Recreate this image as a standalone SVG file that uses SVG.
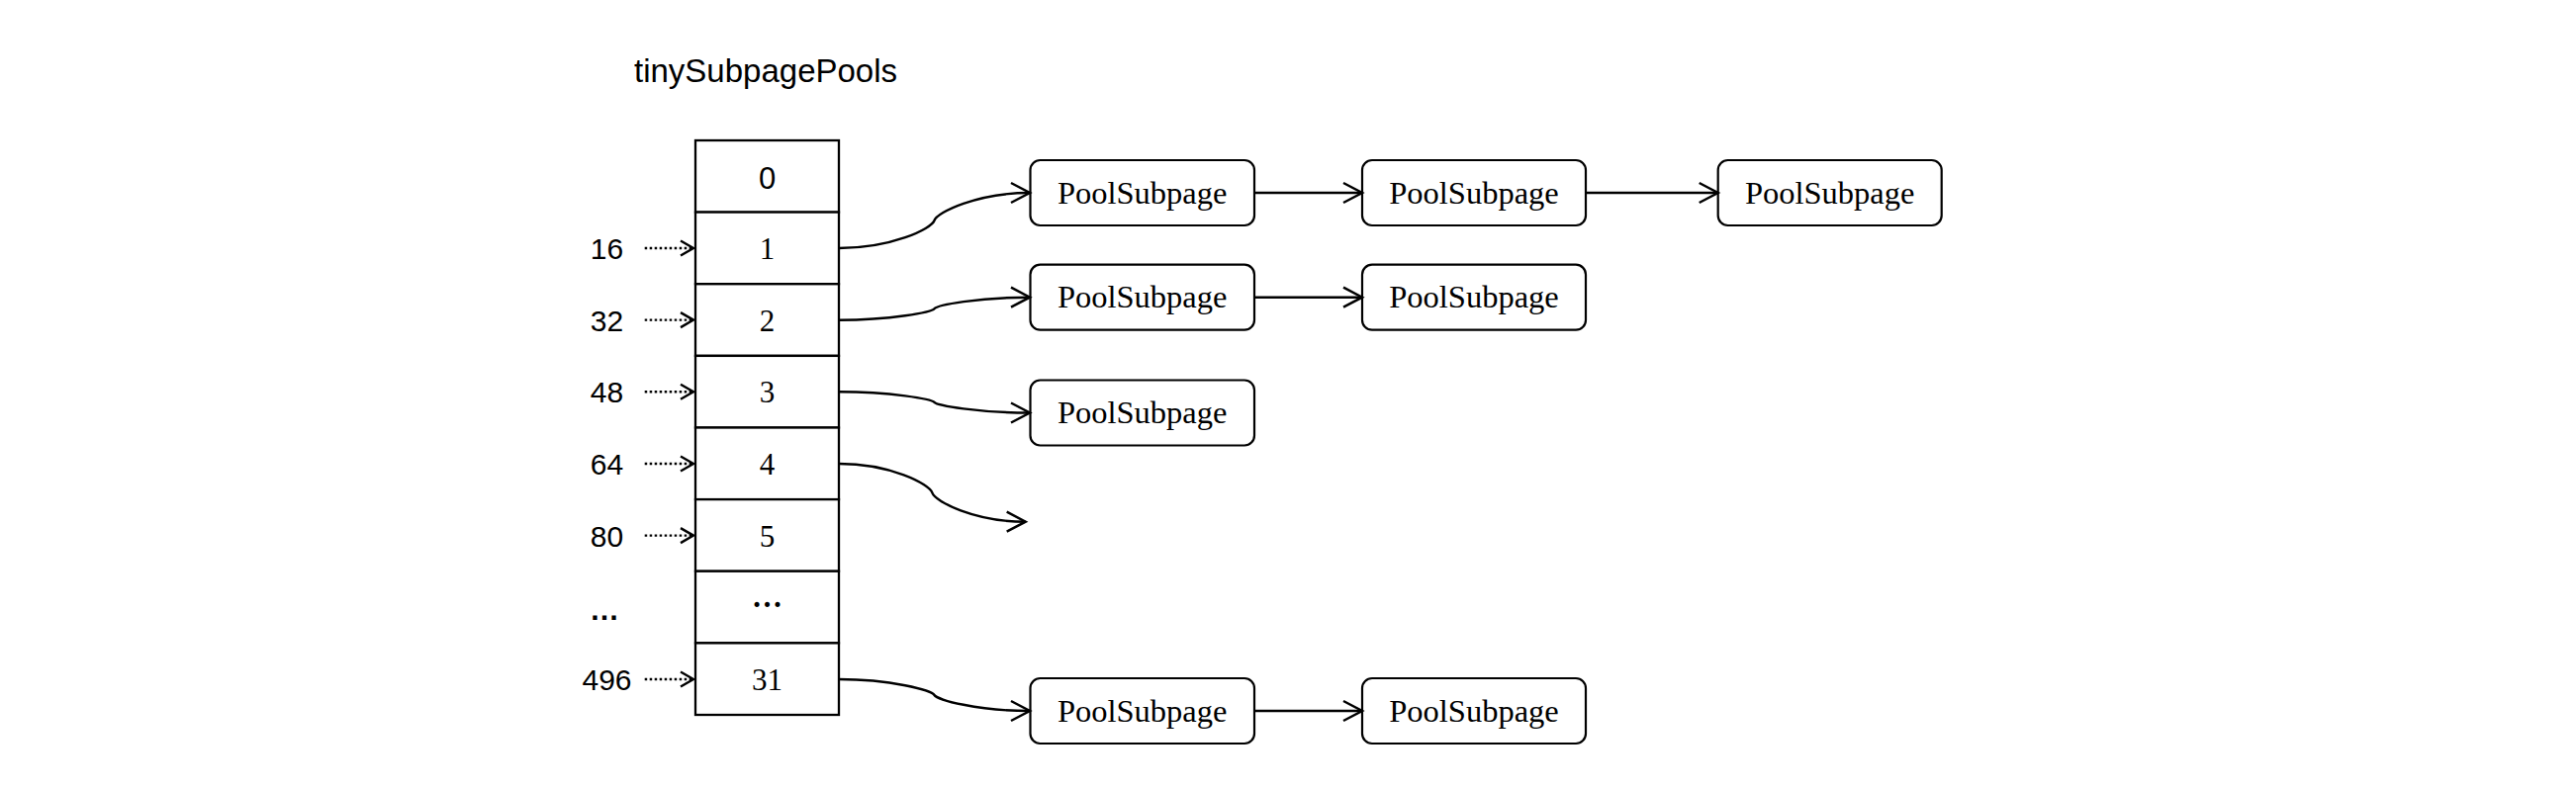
<svg xmlns="http://www.w3.org/2000/svg" width="2604" height="798" viewBox="0 0 2604 798">
<style>
  .cell { fill: #fff; stroke: #000; stroke-width: 2.3; }
  .box { fill: #fff; stroke: #000; stroke-width: 2.2; }
  .sans { font-family: "Liberation Sans", Arial, sans-serif; fill: #000; }
  .serif { font-family: "Liberation Serif", "Times New Roman", serif; fill: #000; }
  .lbl { font-size: 30px; text-anchor: middle; }
  .idx { font-size: 31px; text-anchor: middle; }
  .ps { font-size: 32.5px; text-anchor: middle; }
  .edge { fill: none; stroke: #000; stroke-width: 2.4; marker-end: url(#open); }
  .dot { fill: none; stroke: #000; stroke-width: 2.4; stroke-dasharray: 2.5 2.5; marker-end: url(#openSmall); }
</style>
<defs>
  <marker id="open" markerUnits="userSpaceOnUse" markerWidth="24" markerHeight="26" refX="20" refY="11" orient="auto" overflow="visible">
    <path d="M1,1 L20,11 L1,21" fill="none" stroke="#000" stroke-width="2.5" stroke-dasharray="none"/>
  </marker>
  <marker id="openSmall" markerUnits="userSpaceOnUse" markerWidth="18" markerHeight="20" refX="14" refY="8" orient="auto" overflow="visible">
    <path d="M1,0.5 L14,8 L1,15.5" fill="none" stroke="#000" stroke-width="2.4" stroke-dasharray="none"/>
  </marker>
</defs>
<rect width="2604" height="798" fill="#fff"/>

<text id="title" class="sans" x="641" y="83" font-size="33">tinySubpagePools</text>

<g id="table">
  <g id="row0"><rect class="cell" x="703" y="142" width="145" height="72.6"/><text class="sans" x="775.5" y="190.7" font-size="31" text-anchor="middle">0</text></g>
  <g id="row1"><rect class="cell" x="703" y="214.6" width="145" height="72.6"/><text class="serif idx" x="775.5" y="262">1</text></g>
  <g id="row2"><rect class="cell" x="703" y="287.25" width="145" height="72.6"/><text class="serif idx" x="775.5" y="334.7">2</text></g>
  <g id="row3"><rect class="cell" x="703" y="359.9" width="145" height="72.6"/><text class="serif idx" x="775.5" y="407.3">3</text></g>
  <g id="row4"><rect class="cell" x="703" y="432.5" width="145" height="72.6"/><text class="serif idx" x="775.5" y="480">4</text></g>
  <g id="row5"><rect class="cell" x="703" y="505.1" width="145" height="72.6"/><text class="serif idx" x="775.5" y="552.7">5</text></g>
  <g id="row6"><rect class="cell" x="703" y="577.75" width="145" height="72.6"/><text class="serif idx" x="775.5" y="614" font-weight="bold">…</text></g>
  <g id="row7"><rect class="cell" x="703" y="650.4" width="145" height="72.6"/><text class="serif idx" x="775.5" y="698.3">31</text></g>
</g>

<g id="labels">
  <text class="sans lbl" x="613.5" y="262">16</text>
  <text class="sans lbl" x="613.5" y="334.7">32</text>
  <text class="sans lbl" x="613.5" y="407.3">48</text>
  <text class="sans lbl" x="613.5" y="480">64</text>
  <text class="sans lbl" x="613.5" y="552.7">80</text>
  <text class="sans lbl" x="611" y="627" font-weight="bold">…</text>
  <text class="sans lbl" x="613.5" y="698.3">496</text>
</g>

<g id="ps-1-1"><rect class="box" x="1041.5" y="162" width="226.5" height="66" rx="10"/><text class="serif ps" x="1154.7" y="205.7">PoolSubpage</text></g>
<g id="ps-1-2"><rect class="box" x="1377" y="162" width="226" height="66" rx="10"/><text class="serif ps" x="1490" y="205.7">PoolSubpage</text></g>
<g id="ps-1-3"><rect class="box" x="1736.7" y="162" width="226" height="66" rx="10"/><text class="serif ps" x="1849.7" y="205.7">PoolSubpage</text></g>
<g id="ps-2-1"><rect class="box" x="1041.5" y="267.7" width="226.5" height="66" rx="10"/><text class="serif ps" x="1154.7" y="311.4">PoolSubpage</text></g>
<g id="ps-2-2"><rect class="box" x="1377" y="267.7" width="226" height="66" rx="10"/><text class="serif ps" x="1490" y="311.4">PoolSubpage</text></g>
<g id="ps-3-1"><rect class="box" x="1041.5" y="384.5" width="226.5" height="66" rx="10"/><text class="serif ps" x="1154.7" y="428.2">PoolSubpage</text></g>
<g id="ps-31-1"><rect class="box" x="1041.5" y="686" width="226.5" height="66" rx="10"/><text class="serif ps" x="1154.7" y="729.7">PoolSubpage</text></g>
<g id="ps-31-2"><rect class="box" x="1377" y="686" width="226" height="66" rx="10"/><text class="serif ps" x="1490" y="729.7">PoolSubpage</text></g>

<g id="connectors">
  <path class="dot" d="M651.7,251 L701,251"/>
  <path class="dot" d="M651.7,323.6 L701,323.6"/>
  <path class="dot" d="M651.7,396.3 L701,396.3"/>
  <path class="dot" d="M651.7,469 L701,469"/>
  <path class="dot" d="M651.7,541.6 L701,541.6"/>
  <path class="dot" d="M651.7,687 L701,687"/>

  <path class="edge" d="M848,251 C901,251 941.5,231.4 944.5,223 C947.5,214.6 988,195 1041,195"/>
  <path class="edge" d="M848,323.7 C901,323.7 941.5,315.65 944.5,312.2 C947.5,308.75 988,300.7 1041,300.7"/>
  <path class="edge" d="M848,396.3 C901,396.3 941.5,403.7 944.5,406.9 C947.5,410.1 988,417.5 1041,417.5"/>
  <path class="edge" d="M848,469 C899.9,469 939.35,489.5 942.35,498.35 C945.35,507.2 984.8,527.7 1036.7,527.7"/>
  <path class="edge" d="M848,687 C901,687 941.5,698.2 944.5,703 C947.5,707.8 988,719 1041,719"/>

  <path class="edge" d="M1268,195 L1377,195"/>
  <path class="edge" d="M1603,195 L1736.7,195"/>
  <path class="edge" d="M1268,300.7 L1377,300.7"/>
  <path class="edge" d="M1268,719 L1377,719"/>
</g>
</svg>
